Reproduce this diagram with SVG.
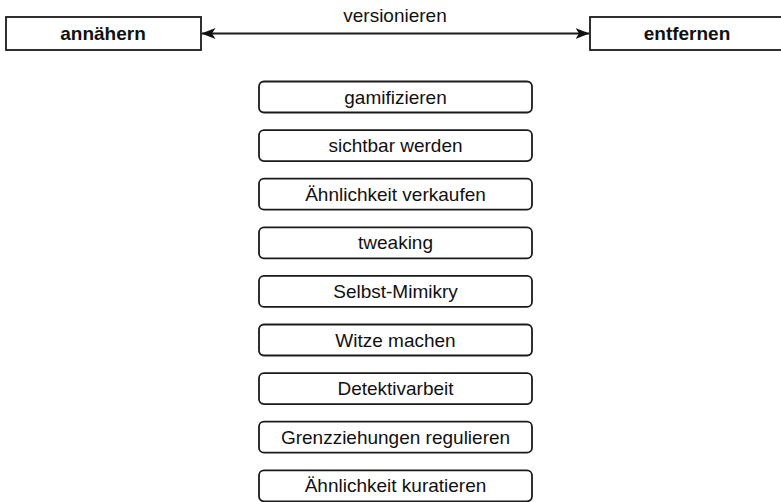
<svg xmlns="http://www.w3.org/2000/svg" width="781" height="502" viewBox="0 0 781 502">
<defs>
<style>
.box{fill:#fff;stroke:#1a1a1a;stroke-width:1.8}
.t{font-family:"Liberation Sans",Arial,sans-serif;font-size:19px;fill:#111;text-anchor:middle}
.b{font-weight:bold}
.conn{stroke:#1a1a1a;stroke-width:1.8;fill:none}
</style>
<marker id="ah" viewBox="0 0 14 11" refX="13.5" refY="5.5" markerWidth="14" markerHeight="11" markerUnits="userSpaceOnUse" orient="auto-start-reverse">
<path d="M0,0 L14,5.5 L0,11 L3.5,5.5 Z" fill="#111"/>
</marker>
</defs>
<rect width="781" height="502" fill="#fff"/>
<g id="connectors">
<line class="conn" x1="202" y1="33.5" x2="589" y2="33.5" marker-start="url(#ah)" marker-end="url(#ah)"/>
<text class="t" x="395" y="22">versionieren</text>
</g>
<g id="annaehern">
<rect class="box" x="6" y="17" width="195" height="33"/>
<text class="t b" x="103" y="40">annähern</text>
</g>
<g id="entfernen">
<rect class="box" x="590" y="17" width="195" height="33"/>
<text class="t b" x="687" y="40">entfernen</text>
</g>
<g id="n1"><rect class="box" x="259" y="81.5" width="273" height="31" rx="5"/><text class="t" x="395.5" y="103.5">gamifizieren</text></g>
<g id="n2"><rect class="box" x="259" y="130.1" width="273" height="31" rx="5"/><text class="t" x="395.5" y="152.1">sichtbar werden</text></g>
<g id="n3"><rect class="box" x="259" y="178.7" width="273" height="31" rx="5"/><text class="t" x="395.5" y="200.7">Ähnlichkeit verkaufen</text></g>
<g id="n4"><rect class="box" x="259" y="227.3" width="273" height="31" rx="5"/><text class="t" x="395.5" y="249.3">tweaking</text></g>
<g id="n5"><rect class="box" x="259" y="275.9" width="273" height="31" rx="5"/><text class="t" x="395.5" y="297.9">Selbst-Mimikry</text></g>
<g id="n6"><rect class="box" x="259" y="324.5" width="273" height="31" rx="5"/><text class="t" x="395.5" y="346.5">Witze machen</text></g>
<g id="n7"><rect class="box" x="259" y="373.1" width="273" height="31" rx="5"/><text class="t" x="395.5" y="395.1">Detektivarbeit</text></g>
<g id="n8"><rect class="box" x="259" y="421.7" width="273" height="31" rx="5"/><text class="t" x="395.5" y="443.7">Grenzziehungen regulieren</text></g>
<g id="n9"><rect class="box" x="259" y="470.3" width="273" height="31" rx="5"/><text class="t" x="395.5" y="492.3">Ähnlichkeit kuratieren</text></g>
</svg>
